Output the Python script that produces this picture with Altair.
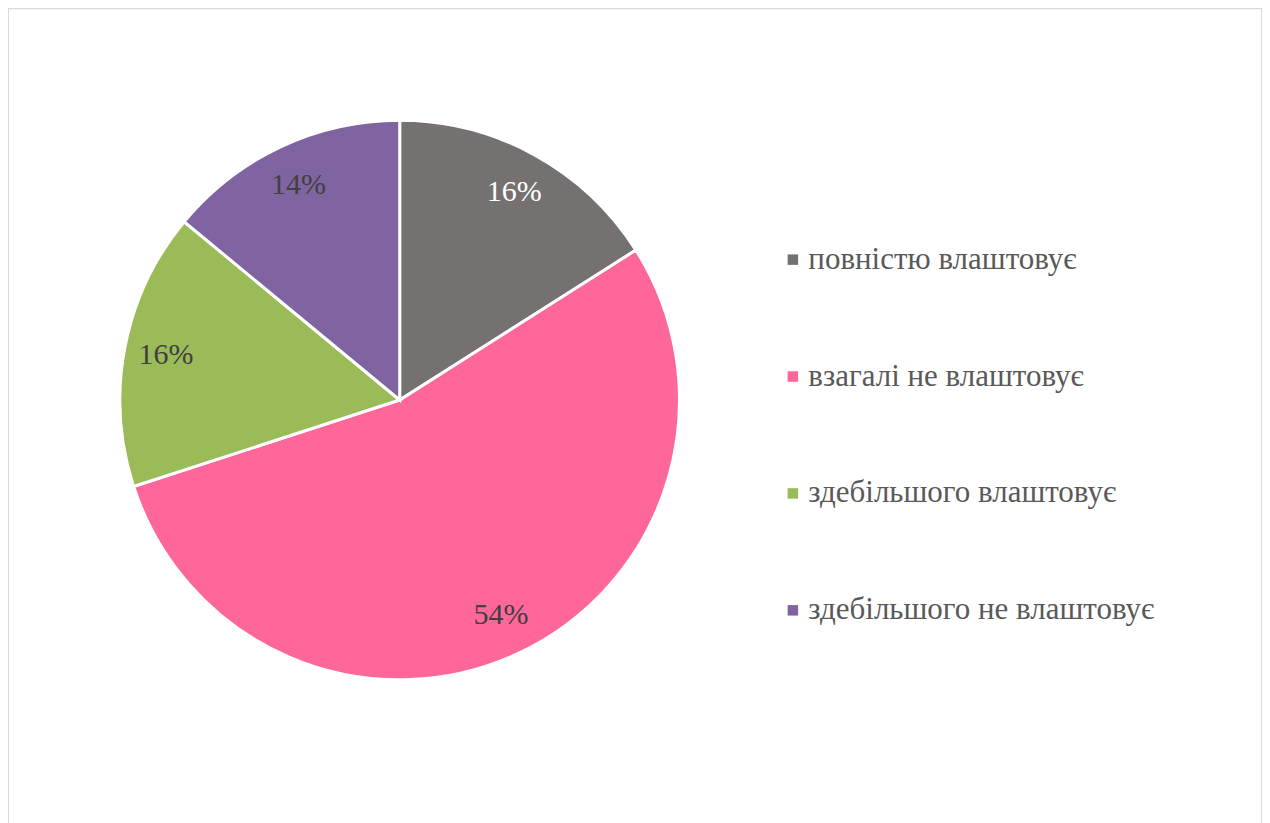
import altair as alt
import pandas as pd

categories = ["повністю влаштовує", "взагалі не влаштовує", "здебільшого влаштовує", "здебільшого не влаштовує"]
values = [16, 54, 16, 14]
labels = ["16%", "54%", "16%", "14%"]
colors = ["#767171", "#FF6699", "#9BBB59", "#8064A2"]

df = pd.DataFrame({"category": categories, "value": values, "label": labels, "order": list(range(len(categories)))})

cx, cy, R = 392, 392, 280
FONT = "Liberation Serif"

base = alt.Chart(df).encode(
    theta=alt.Theta("value:Q", stack=True),
    order=alt.Order("order:Q"),
    x=alt.value(cx),
    y=alt.value(cy),
)

pie = base.mark_arc(radius=R, stroke="white", strokeWidth=3).encode(
    color=alt.Color(
        "category:N",
        scale=alt.Scale(domain=categories, range=colors),
        sort=categories,
        legend=alt.Legend(
            title=None,
            orient="none",
            legendX=770,
            legendY=236,
            symbolType="square",
            symbolSize=110,
            symbolStrokeWidth=0,
            labelFont=FONT,
            labelFontSize=31,
            labelColor="#595959",
            labelLimit=500,
            labelOffset=0,
            rowPadding=85,
        ),
    )
)

text = base.mark_text(radius=238, font=FONT, fontSize=30).encode(
    text="label:N",
    color=alt.condition(alt.datum.category == categories[0], alt.value("white"), alt.value("#404040")),
)

chart = (
    alt.layer(pie, text)
    .properties(width=1255, height=830, padding=0, autosize=alt.AutoSizeParams(type="none"))
    .configure_view(stroke="#d9d9d9", strokeWidth=2)
)

chart.save("out.html", embed_options={"renderer": "svg", "actions": False})
